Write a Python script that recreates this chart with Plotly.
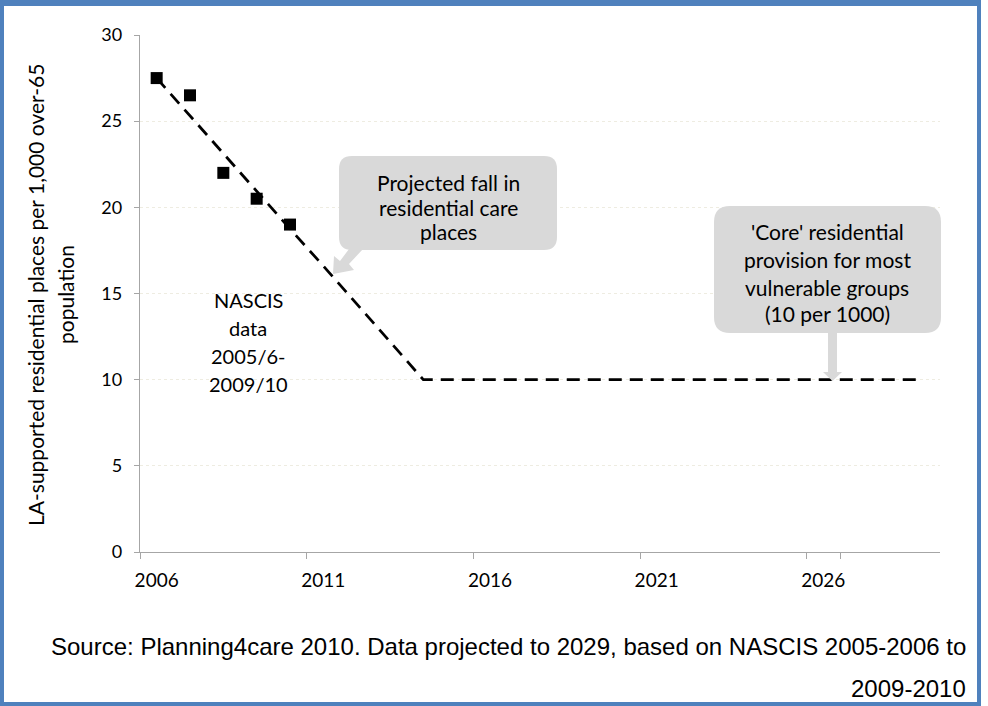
import plotly.graph_objects as go

# ---------------- data ----------------
years = ["2006", "2007", "2008", "2009", "2010", "2011", "2012", "2013",
         "2014", "2015", "2016", "2017", "2018", "2019", "2020", "2021",
         "2022", "2023", "2024", "2025", "2026", "2027", "2028", "2029"]
projection = [27.5, 25.3, 23.1, 20.9, 18.75, 16.6, 14.4, 12.2,
              10, 10, 10, 10, 10, 10, 10, 10,
              10, 10, 10, 10, 10, 10, 10, 10]
nascis_years = ["2006", "2007", "2008", "2009", "2010"]
nascis_values = [27.5, 26.5, 22.0, 20.5, 19.0]
x_tick_labels = ["2006", "2011", "2016", "2021", "2026"]
y_tick_values = [0, 5, 10, 15, 20, 25, 30]

W, H = 988, 706
ML, MR, MT, MB = 140, 48, 35, 154
PW, PH = W - ML - MR, H - MT - MB


def px(x):
    return (x - ML) / PW


def py(y):
    return (H - MB - y) / PH


def rounded_rect(x0, y0, x1, y1, r):
    pts = [
        f"M {px(x0 + r)},{py(y0)}",
        f"L {px(x1 - r)},{py(y0)}",
        f"Q {px(x1)},{py(y0)} {px(x1)},{py(y0 + r)}",
        f"L {px(x1)},{py(y1 - r)}",
        f"Q {px(x1)},{py(y1)} {px(x1 - r)},{py(y1)}",
        f"L {px(x0 + r)},{py(y1)}",
        f"Q {px(x0)},{py(y1)} {px(x0)},{py(y1 - r)}",
        f"L {px(x0)},{py(y0 + r)}",
        f"Q {px(x0)},{py(y0)} {px(x0 + r)},{py(y0)}",
        "Z",
    ]
    return " ".join(pts)


def polygon(points):
    s = "M " + " L ".join(f"{px(x)},{py(y)}" for x, y in points) + " Z"
    return s


FONT = "Lato"
GRAY_FILL = "#D9D9D9"
BLUE = "#4F81BD"

fig = go.Figure()

fig.add_trace(go.Scatter(
    x=years, y=projection, mode="lines",
    line=dict(color="black", width=2.75, dash="13px,8px"),
    hoverinfo="skip", showlegend=False,
))
fig.add_trace(go.Scatter(
    x=nascis_years, y=nascis_values, mode="markers",
    marker=dict(symbol="square", size=12, color="black"),
    showlegend=False,
))

shapes = []
# callout 1
shapes.append(dict(type="path", xref="paper", yref="paper", layer="above",
                   path=rounded_rect(339, 156, 557, 250, 13),
                   fillcolor=GRAY_FILL, line=dict(width=0)))
shapes.append(dict(type="path", xref="paper", yref="paper", layer="above",
                   path=polygon([(349, 249), (363, 249), (349, 264), (354, 270),
                                 (333, 274), (334, 256), (340, 261)]),
                   fillcolor=GRAY_FILL, line=dict(width=0)))
# callout 2
shapes.append(dict(type="path", xref="paper", yref="paper", layer="above",
                   path=rounded_rect(714, 206, 941, 333, 16),
                   fillcolor=GRAY_FILL, line=dict(width=0)))
shapes.append(dict(type="path", xref="paper", yref="paper", layer="above",
                   path=polygon([(828, 332), (837, 332), (837, 372), (842, 372),
                                 (832.5, 381), (823, 372), (828, 372)]),
                   fillcolor=GRAY_FILL, line=dict(width=0)))
# blue frame
for (x0, y0, x1, y1) in [(0, 0, 981, 6), (0, 0, 4, 706), (977, 0, 981, 706), (0, 702, 981, 706)]:
    shapes.append(dict(type="rect", xref="paper", yref="paper", layer="above",
                       x0=px(x0), x1=px(x1), y0=py(y1), y1=py(y0),
                       fillcolor=BLUE, line=dict(width=0)))

annotations = []


def text(t, x, y, size, xanchor="center", font=FONT, angle=0, color="black"):
    annotations.append(dict(
        text=t, x=px(x), y=py(y), xref="paper", yref="paper",
        xanchor=xanchor, yanchor="middle", showarrow=False, textangle=angle,
        font=dict(family=font, size=size, color=color),
    ))


# callout 1 text
for t, y in [("Projected fall in", 182), ("residential care", 207), ("places", 232)]:
    text(t, 448, y, 21)
# callout 2 text
for t, y in [("'Core' residential", 232), ("provision for most", 259),
             ("vulnerable groups", 287), ("(10 per 1000)", 314)]:
    text(t, 827, y, 21)
# NASCIS label
for t, y in [("NASCIS", 300), ("data", 328), ("2005/6-", 356), ("2009/10", 384)]:
    text(t, 248, y, 20)
# y axis title (two lines)
text("LA-supported residential places per 1,000 over-65", 35, 295, 21, angle=-90)
text("population", 65, 295, 21, angle=-90)
# source
text("Source: Planning4care 2010. Data projected to 2029, based on NASCIS 2005-2006 to",
     968, 646, 24, xanchor="right", font="Liberation Sans")
text("2009-2010", 968, 688, 24, xanchor="right", font="Liberation Sans")

fig.update_layout(
    width=W, height=H,
    margin=dict(l=ML, r=MR, t=MT, b=MB, autoexpand=False),
    paper_bgcolor="white", plot_bgcolor="white",
    showlegend=False,
    shapes=shapes, annotations=annotations,
    font=dict(family=FONT, color="black"),
    xaxis=dict(
        type="category", range=[-0.5, 23.5], tickmode="array",
        tickvals=x_tick_labels, ticktext=x_tick_labels, tickson="boundaries",
        tickangle=0,
        ticks="outside", ticklen=6, tickcolor="#A6A6A6", tickwidth=1,
        showline=True, linecolor="#A6A6A6", linewidth=1.3,
        showgrid=False, zeroline=False,
        tickfont=dict(family=FONT, size=19, color="black"),
        ticklabelstandoff=11,
    ),
    yaxis=dict(
        range=[0, 30], tickmode="array", tickvals=y_tick_values,
        ticks="outside", ticklen=5, tickcolor="#A6A6A6", tickwidth=1,
        showline=True, linecolor="#A6A6A6", linewidth=1.3,
        showgrid=True, gridcolor="#EEECE1", griddash="dot", gridwidth=1,
        zeroline=False,
        tickfont=dict(family=FONT, size=18, color="black"),
        ticklabelstandoff=8,
    ),
)

fig.write_html("out.html", post_script="document.body.style.margin='0';",
               config={"displayModeBar": False})
